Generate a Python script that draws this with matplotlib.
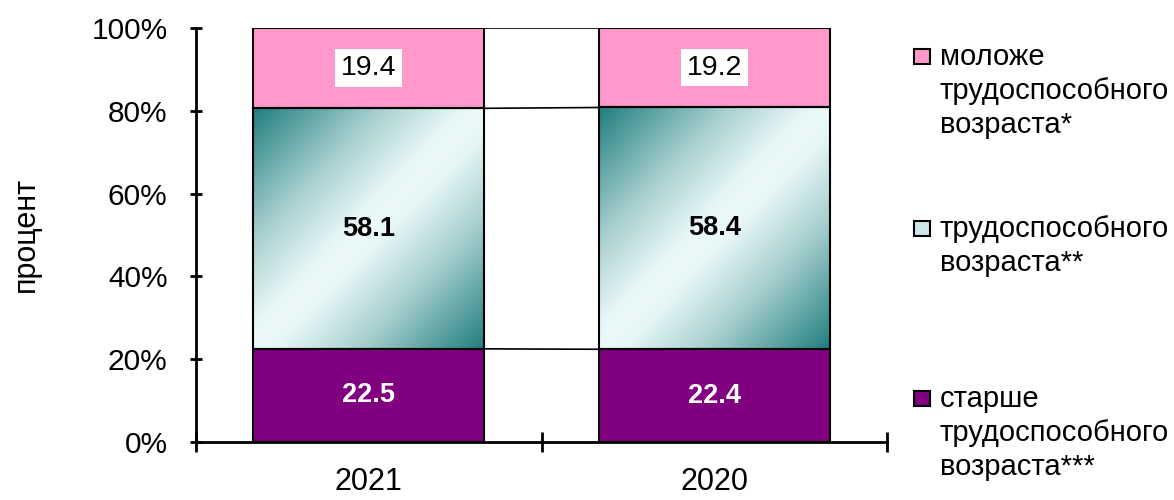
import matplotlib.pyplot as plt
import numpy as np
from matplotlib.patches import Rectangle
from matplotlib.colors import LinearSegmentedColormap

plt.rcParams['font.family'] = ['Liberation Sans', 'DejaVu Sans']

years = ['2021', '2020']
older = [22.5, 22.4]
working = [58.1, 58.4]
younger = [19.4, 19.2]
legend_labels = ['моложе\nтрудоспособного\nвозраста*',
                 'трудоспособного\nвозраста**',
                 'старше\nтрудоспособного\nвозраста***']

fig = plt.figure(figsize=(11.74, 5), dpi=100)
ax = fig.add_axes([196 / 1174, 58 / 500, 691 / 1174, 414 / 500])

x = np.arange(len(years))
w = 0.67
older = np.array(older)
working = np.array(working)
younger = np.array(younger)

pink = '#FF99CC'
purple = '#800080'
teal_cmap = LinearSegmentedColormap.from_list(
    't', [(0, '#EBF9F9'), (0.1, '#E6F6F6'), (0.45, '#A8CFCF'), (1, '#1F7F7E')])

ax.bar(x, older, w, color=purple, edgecolor='black', lw=1.5, zorder=3)
mid = ax.bar(x, working, w, bottom=older, color='none', edgecolor='black', lw=1.5, zorder=4)
ax.bar(x, younger, w, bottom=older + working, color=pink, edgecolor='black', lw=1.5, zorder=3)

# gradient fill for the middle segment
u, v = np.meshgrid(np.linspace(0, 1, 200), np.linspace(0, 1, 200))
grad = np.abs(u + v - 1)
for r in mid:
    x0, y0 = r.get_x(), r.get_y()
    im = ax.imshow(grad, cmap=teal_cmap, vmin=0, vmax=1,
                   extent=[x0, x0 + r.get_width(), y0, y0 + r.get_height()],
                   origin='upper', aspect='auto', zorder=2, interpolation='bilinear')
    clip = Rectangle((x0, y0), r.get_width(), r.get_height(), transform=ax.transData)
    im.set_clip_path(clip)

# series lines
for lvl in [older, older + working, older + working + younger]:
    for i in range(len(x) - 1):
        ax.plot([x[i] + w / 2, x[i + 1] - w / 2], [lvl[i], lvl[i + 1]], color='black', lw=1.2, zorder=3)

for i in range(len(x)):
    ax.text(x[i], older[i] / 2, f'{older[i]:.1f}', ha='center', va='center', fontsize=19.5,
            fontweight='bold', color='white', zorder=5)
    ax.text(x[i], older[i] + working[i] / 2, f'{working[i]:.1f}', ha='center', va='center',
            fontsize=19.5, fontweight='bold', color='black', zorder=5)
    ax.text(x[i], older[i] + working[i] + younger[i] / 2, f'{younger[i]:.1f}', ha='center',
            va='center', fontsize=20.5, color='black', zorder=5,
            bbox=dict(facecolor='white', edgecolor='none', pad=4))

ax.set_xlim(-0.5, len(x) - 0.5)
ax.set_ylim(0, 100)
ax.set_yticks(np.arange(0, 101, 20))
ax.set_yticklabels([f'{t}%' for t in range(0, 101, 20)], fontsize=21.5)
ax.set_xticks(x)
ax.set_xticklabels(years, fontsize=22)
ax.set_xticks(np.arange(-0.5, len(x), 1), minor=True)
ax.tick_params(axis='x', which='major', length=0, pad=18)
ax.tick_params(axis='x', which='minor', direction='inout', length=14, width=2)
ax.tick_params(axis='y', direction='inout', length=9, width=2, pad=16)
for s in ['top', 'right']:
    ax.spines[s].set_visible(False)
for s in ['left', 'bottom']:
    ax.spines[s].set_linewidth(2)
ax.set_ylabel('процент', fontsize=22, labelpad=36)

# legend drawn by hand, Excel-style (marker at first line)
leg_colors = [pink, '#CFE6E6', purple]
leg_first_baseline = [65, 237, 407]
for lab, col, yb in zip(legend_labels, leg_colors, leg_first_baseline):
    fig.patches.append(Rectangle((914 / 1174, 1 - (yb - 1) / 500), 16 / 1174, 15 / 500,
                                 transform=fig.transFigure, facecolor=col, edgecolor='black', lw=1.5))
    for j, line in enumerate(lab.split('\n')):
        fig.text(940 / 1174, 1 - (yb + j * 34) / 500, line, fontsize=21, va='baseline', ha='left')

fig.savefig('out.png', dpi=100)
